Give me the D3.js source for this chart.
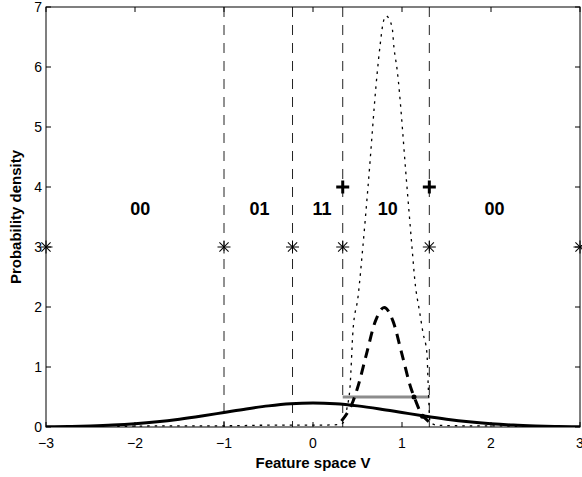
<!DOCTYPE html>
<html>
<head>
<meta charset="utf-8">
<script src="https://cdn.jsdelivr.net/npm/d3@7"></script>
<style>
  body { margin: 0; background: #fff; }
  text { font-family: "Liberation Sans", Arial, Helvetica, sans-serif; }
</style>
</head>
<body>
<script>
// widths and heights of the page and the axes box
var width = 582, height = 477;
var left = 46, right = 580, top_ = 7, bottom = 427;

// tick values
var xTicks = [-3, -2, -1, 0, 1, 2, 3];
var yTicks = [0, 1, 2, 3, 4, 5, 6, 7];

// solid curve (wide density)
var wideX = [-3, -2.75, -2.5, -2.25, -2, -1.75, -1.5, -1.25, -1, -0.75, -0.5, -0.25, 0,
	0.25, 0.5, 0.75, 1, 1.25, 1.5, 1.75, 2, 2.25, 2.5, 2.75, 3];
var wideY = [0.004, 0.009, 0.018, 0.032, 0.054, 0.086, 0.13, 0.183, 0.242, 0.301, 0.352, 0.387, 0.399,
	0.387, 0.352, 0.301, 0.242, 0.183, 0.13, 0.086, 0.054, 0.032, 0.018, 0.009, 0.004];

// thick dashed curve (narrow density)
var narrowX = [0.32, 0.4, 0.45, 0.5, 0.6, 0.7, 0.8, 0.9, 1.0, 1.1, 1.15, 1.2, 1.3];
var narrowY = [0.1, 0.27, 0.43, 0.65, 1.21, 1.76, 1.99, 1.76, 1.21, 0.65, 0.45, 0.27, 0.09];

// dotted curve (peaked density), with its flat tails near zero
var peakX = [-2.2, -1.5, -1.0, -0.5, 0.0, 0.3, 0.345, 0.38, 0.416, 0.45, 0.506, 0.56, 0.618, 0.72, 0.753, 0.787, 0.82,
	0.888, 0.91, 0.944, 1.056, 1.112, 1.146, 1.2, 1.236, 1.28, 1.295, 1.315, 1.4, 1.7, 2.0, 2.3];
var peakY = [0.01, 0.02, 0.02, 0.03, 0.03, 0.04, 0.08, 0.3, 0.67, 1.62, 2.17, 3.0, 4.0, 5.88, 6.35, 6.73, 6.85,
	6.67, 6.32, 5.97, 4.0, 3.0, 2.42, 1.9, 1.57, 1.23, 0.67, 0.08, 0.03, 0.02, 0.02, 0.01];

// thresholds, markers and labels
var thresholds = [-1, -0.23, 0.334, 1.307];
var starX = [-3, -1, -0.23, 0.334, 1.307, 3];
var starLevel = 3;
var plusX = [0.334, 1.307];
var plusLevel = 4;
var regionText = ["00", "01", "11", "10", "00"];
var regionX = [-1.94, -0.6, 0.1, 0.84, 2.04];
var regionLevel = 3.65;
var grayBarX = [0.334, 1.307];
var grayBarLevel = 0.5;
var crossX = [1.135, 1.23];
var crossY = [0.5, 0.18];

var x = d3.scaleLinear().domain([-3, 3]).range([left, right]);
var y = d3.scaleLinear().domain([0, 7]).range([bottom, top_]);

var svg = d3.select('body').append('svg').attr('width', width).attr('height', height);

// clip for the curves
svg.append('clipPath').attr('id', 'clip').append('rect')
	.attr('x', left).attr('y', top_).attr('width', right - left).attr('height', bottom - top_);

var plot = svg.append('g').attr('clip-path', 'url(#clip)');

// vertical dashed threshold lines
plot.selectAll('.thr').data(thresholds).enter().append('line')
	.attr('x1', d => x(d)).attr('x2', d => x(d))
	.attr('y1', y(7)).attr('y2', y(0))
	.attr('stroke', '#222').attr('stroke-width', 1).attr('stroke-dasharray', '10,8');

var line = d3.line().x(d => x(d[0])).y(d => y(d[1]));

// gray bar
plot.append('line')
	.attr('x1', x(grayBarX[0])).attr('x2', x(grayBarX[1]))
	.attr('y1', y(grayBarLevel)).attr('y2', y(grayBarLevel))
	.attr('stroke', '#8c8c8c').attr('stroke-width', 3);

// dotted peaked curve
plot.append('path').datum(d3.zip(peakX, peakY))
	.attr('d', line.curve(d3.curveMonotoneX))
	.attr('fill', 'none').attr('stroke', '#000').attr('stroke-width', 1.3)
	.attr('stroke-dasharray', '2.5,5');

// thick dashed narrow curve
plot.append('path').datum(d3.zip(narrowX, narrowY))
	.attr('d', line.curve(d3.curveMonotoneX))
	.attr('fill', 'none').attr('stroke', '#000').attr('stroke-width', 3)
	.attr('stroke-dasharray', '10,7');

// solid wide curve
plot.append('path').datum(d3.zip(wideX, wideY))
	.attr('d', line.curve(d3.curveMonotoneX))
	.attr('fill', 'none').attr('stroke', '#000').attr('stroke-width', 3);

// crossing dots
plot.selectAll('.cross').data(d3.zip(crossX, crossY)).enter().append('circle')
	.attr('cx', d => x(d[0])).attr('cy', d => y(d[1])).attr('r', 2.5).attr('fill', '#000');

// axes box
svg.append('rect').attr('x', left).attr('y', top_).attr('width', right - left).attr('height', bottom - top_)
	.attr('fill', 'none').attr('stroke', '#000').attr('stroke-width', 1);

// ticks inside the box, on all four sides
var tk = 5;
svg.selectAll('.xtb').data(xTicks).enter().append('line')
	.attr('x1', d => x(d)).attr('x2', d => x(d)).attr('y1', bottom).attr('y2', bottom - tk).attr('stroke', '#000');
svg.selectAll('.xtt').data(xTicks).enter().append('line')
	.attr('x1', d => x(d)).attr('x2', d => x(d)).attr('y1', top_).attr('y2', top_ + tk).attr('stroke', '#000');
svg.selectAll('.ytl').data(yTicks).enter().append('line')
	.attr('x1', left).attr('x2', left + tk).attr('y1', d => y(d)).attr('y2', d => y(d)).attr('stroke', '#000');
svg.selectAll('.ytr').data(yTicks).enter().append('line')
	.attr('x1', right).attr('x2', right - tk).attr('y1', d => y(d)).attr('y2', d => y(d)).attr('stroke', '#000');

// tick labels
svg.selectAll('.xl').data(xTicks).enter().append('text')
	.attr('x', d => x(d)).attr('y', bottom + 21)
	.attr('text-anchor', 'middle').attr('font-size', '14px')
	.text(d => d < 0 ? '\u2212' + Math.abs(d) : d);
svg.selectAll('.yl').data(yTicks).enter().append('text')
	.attr('x', left - 4).attr('y', d => y(d) + 5)
	.attr('text-anchor', 'end').attr('font-size', '14px')
	.text(d => d);

// axis titles
svg.append('text').attr('x', (left + right) / 2).attr('y', 468)
	.attr('text-anchor', 'middle').attr('font-size', '15px').attr('font-weight', 'bold')
	.text('Feature space V');
svg.append('text').attr('transform', 'translate(21,' + (top_ + bottom) / 2 + ') rotate(-90)')
	.attr('text-anchor', 'middle').attr('font-size', '15px').attr('font-weight', 'bold')
	.text('Probability density');

// star markers at level 3
var star = svg.selectAll('.star').data(starX).enter().append('g')
	.attr('transform', d => 'translate(' + x(d) + ',' + y(starLevel) + ')');
[0, 45, 90, 135].forEach(a => {
	star.append('line').attr('x1', -6.5).attr('x2', 6.5).attr('y1', 0).attr('y2', 0)
		.attr('transform', 'rotate(' + a + ')').attr('stroke', '#000').attr('stroke-width', 1);
});

// plus markers at level 4
var plus = svg.selectAll('.plus').data(plusX).enter().append('g')
	.attr('transform', d => 'translate(' + x(d) + ',' + y(plusLevel) + ')');
plus.append('line').attr('x1', -6.5).attr('x2', 6.5).attr('y1', 0).attr('y2', 0).attr('stroke', '#000').attr('stroke-width', 3);
plus.append('line').attr('x1', 0).attr('x2', 0).attr('y1', -6.5).attr('y2', 6.5).attr('stroke', '#000').attr('stroke-width', 3);

// region codes
svg.selectAll('.reg').data(d3.zip(regionX, regionText)).enter().append('text')
	.attr('x', d => x(d[0])).attr('y', y(regionLevel) + 6.5)
	.attr('text-anchor', 'middle').attr('font-size', '18px').attr('font-weight', 'bold')
	.text(d => d[1]);
</script>
</body>
</html>
